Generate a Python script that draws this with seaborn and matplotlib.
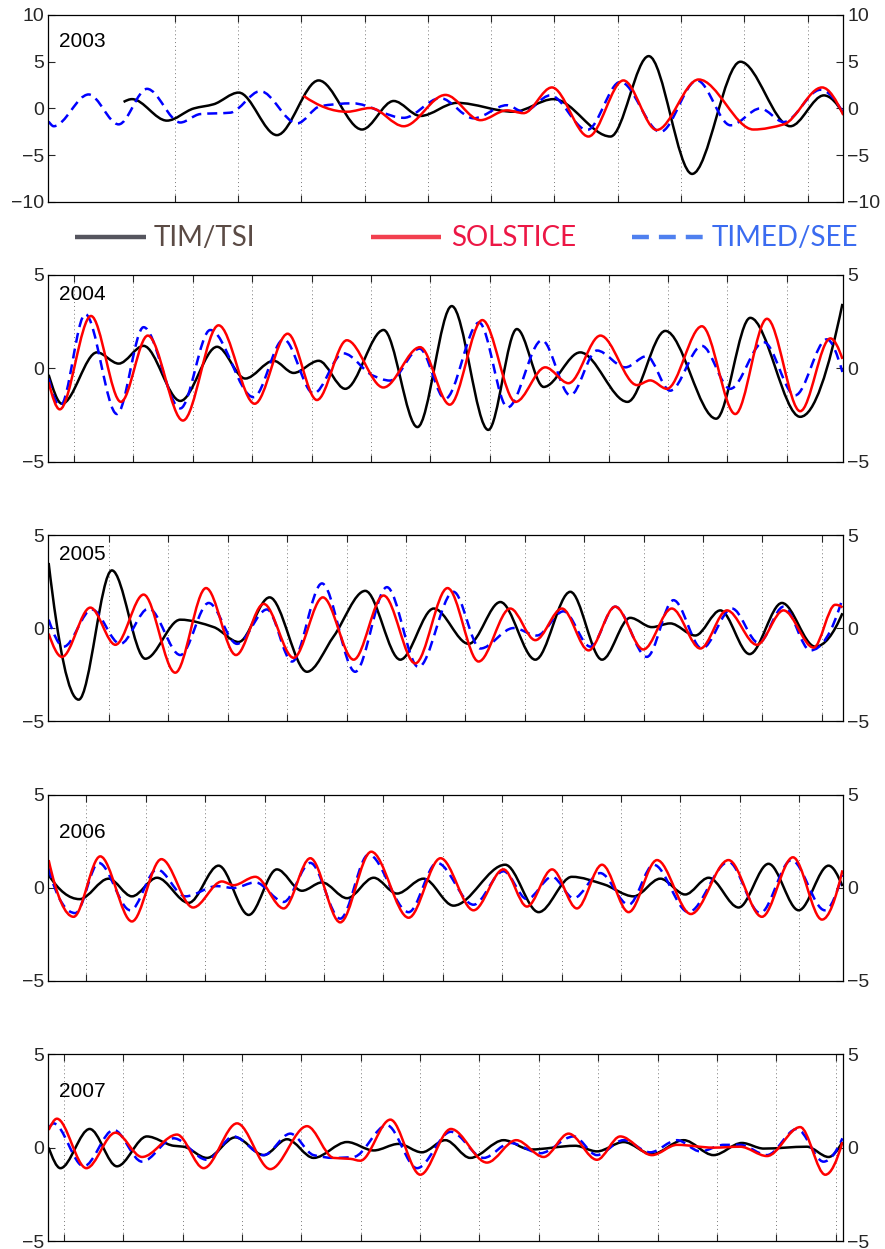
import numpy as np
import matplotlib
matplotlib.use("Agg")
import matplotlib.pyplot as plt
import seaborn as sns
from matplotlib.path import Path
from matplotlib.patches import PathPatch
from matplotlib.lines import Line2D

# ---------------- data (day of record, filtered anomaly) ----------------
years = [2003, 2004, 2005, 2006, 2007]
series_names = ["TIM/TSI", "SOLSTICE", "TIMED/SEE"]

tim_2003_day = [32.1, 35.7, 50.6, 62.0, 70.5, 81.2, 97.5, 115.3, 133.8, 147.3, 158.7, 174.3, 198.5, 215.5, 239.8, 256.1, 274.6, 295.2, 316.5, 330.8, 339.1]
tim_2003_val = [0.7, 1.0, -1.3, 0.0, 0.45, 1.7, -2.85, 3.0, -2.25, 0.8, -0.8, 0.6, -0.35, 1.0, -3.0, 5.6, -7.0, 5.0, -1.9, 1.4, -0.55]
sol_2003_day = [108.9, 127.4, 137.4, 151.6, 169.4, 184.3, 195.6, 202.7, 214.8, 230.4, 245.3, 259.5, 277.4, 300.8, 313.7, 330.0, 339.1]
sol_2003_val = [1.35, -0.35, 0.05, -1.9, 1.45, -1.25, -0.2, -0.5, 2.25, -3.0, 3.0, -2.3, 3.1, -2.25, -1.7, 2.25, -0.7]
see_2003_day = [0.1, 2.3, 17.2, 30.0, 42.1, 56.3, 64.8, 77.6, 90.4, 106.1, 116.0, 129.8, 151.6, 167.2, 181.4, 195.6, 202.7, 214.1, 229.8, 244.0, 261.1, 276.7, 291.0, 303.7, 313.7, 329.3, 339.1]
see_2003_val = [-1.4, -1.9, 1.5, -1.7, 2.1, -1.5, -0.6, -0.45, 1.85, -1.6, 0.25, 0.55, -1.0, 1.1, -1.05, 0.35, -0.35, 1.4, -2.3, 2.85, -2.5, 3.0, -1.8, 0.0, -1.45, 2.0, -0.5]

tim_2004_day = [0.15, 6.2, 22.1, 32.0, 43.3, 60.0, 76.7, 89.5, 102.4, 111.5, 122.9, 135.0, 152.4, 167.8, 183.4, 200.0, 213.0, 225.2, 241.8, 263.3, 280.5, 303.6, 319.1, 341.8, 361.0]
tim_2004_val = [-0.35, -1.9, 0.85, 0.25, 1.2, -1.75, 1.15, -0.55, 0.4, -0.25, 0.4, -1.1, 2.05, -3.15, 3.33, -3.3, 2.1, -1.0, 0.85, -1.8, 2.0, -2.7, 2.7, -2.6, 3.45]
sol_2004_day = [0.15, 5.2, 19.4, 33.0, 45.2, 61.2, 77.4, 93.8, 108.8, 122.1, 135.7, 152.3, 169.0, 182.5, 197.3, 212.4, 225.9, 236.5, 251.0, 267.6, 273.6, 281.2, 297.1, 312.3, 326.7, 341.8, 355.5, 361.0]
sol_2004_val = [-0.75, -2.2, 2.8, -1.8, 1.75, -2.8, 2.3, -1.9, 1.85, -1.7, 1.5, -1.03, 1.13, -1.95, 2.58, -1.8, 0.05, -0.8, 1.75, -0.9, -0.65, -1.1, 2.25, -2.45, 2.65, -2.3, 1.6, 0.5]
see_2004_day = [0.15, 5.5, 16.8, 31.2, 43.3, 60.0, 73.6, 93.3, 107.0, 120.6, 134.1, 147.7, 155.3, 168.8, 180.4, 195.8, 208.8, 224.4, 237.3, 249.4, 262.3, 272.0, 282.7, 297.1, 310.0, 325.2, 339.5, 353.9, 361.0]
see_2004_val = [-0.55, -2.0, 2.9, -2.45, 2.2, -2.15, 2.05, -1.55, 1.55, -1.35, 0.8, -0.4, -0.66, 1.05, -1.64, 2.45, -2.1, 1.5, -1.45, 0.95, 0.05, 0.65, -1.2, 1.2, -1.1, 1.4, -1.45, 1.55, -0.2]

tim_2005_day = [0.15, 13.8, 28.9, 44.1, 60.0, 75.2, 86.5, 100.6, 117.6, 129.7, 144.1, 160.0, 175.2, 191.1, 205.5, 221.4, 237.3, 251.7, 264.5, 274.4, 282.7, 294.1, 305.5, 318.8, 333.5, 348.6, 361.0]
tim_2005_val = [3.5, -3.85, 3.1, -1.65, 0.45, 0.05, -0.75, 1.65, -2.35, -0.45, 2.0, -1.7, 1.05, -0.85, 1.4, -1.7, 1.95, -1.7, 0.55, 0.05, 0.25, -0.4, 0.95, -1.4, 1.35, -1.0, 0.8]
sol_2005_day = [0.15, 6.2, 19.1, 30.5, 43.3, 57.7, 71.7, 85.3, 97.9, 111.5, 124.8, 138.8, 152.4, 166.8, 181.5, 195.6, 210.0, 221.4, 233.5, 245.6, 257.7, 270.5, 283.4, 296.4, 308.5, 322.1, 334.2, 347.9, 357.7, 361.0]
sol_2005_val = [-0.3, -1.55, 1.1, -0.9, 1.8, -2.4, 2.15, -1.45, 1.3, -1.6, 1.65, -1.7, 1.75, -1.9, 2.15, -1.8, 1.05, -0.65, 1.05, -1.2, 1.15, -1.15, 1.05, -1.1, 0.95, -0.9, 0.95, -1.05, 1.25, 1.1]
see_2005_day = [0.15, 7.0, 19.8, 32.7, 45.6, 60.0, 72.9, 85.8, 99.4, 110.8, 124.4, 139.5, 153.9, 168.3, 184.2, 196.4, 211.5, 222.1, 234.2, 246.4, 257.7, 272.1, 284.2, 297.1, 310.8, 322.9, 334.2, 346.4, 361.0]
see_2005_val = [0.45, -1.0, 1.0, -0.85, 1.05, -1.45, 1.35, -0.85, 1.0, -1.8, 2.4, -2.35, 2.2, -2.1, 1.95, -1.1, 0.0, -0.4, 0.9, -1.0, 1.15, -1.55, 1.5, -1.1, 1.05, -0.8, 1.15, -1.2, 1.6]

tim_2006_day = [0.15, 14.2, 27.4, 38.0, 49.4, 63.8, 77.4, 91.1, 103.9, 115.3, 124.4, 135.8, 147.9, 158.5, 170.6, 184.2, 207.7, 222.9, 238.0, 252.4, 266.1, 278.2, 289.5, 300.2, 313.8, 327.4, 341.1, 354.7, 361.0]
tim_2006_val = [0.7, -0.6, 0.5, -0.45, 0.55, -0.8, 1.2, -1.45, 1.0, -0.15, 0.3, -0.55, 0.55, -0.3, 0.5, -0.95, 1.25, -1.3, 0.6, 0.2, -0.45, 0.5, -0.35, 0.55, -1.05, 1.3, -1.2, 1.2, 0.1]
sol_2006_day = [0.15, 11.5, 23.6, 38.0, 51.4, 65.8, 78.9, 84.2, 94.1, 107.0, 119.1, 132.7, 146.8, 163.8, 178.3, 193.3, 206.9, 217.6, 229.0, 240.3, 251.7, 263.8, 276.7, 292.1, 309.2, 324.4, 338.5, 351.7, 361.0]
sol_2006_val = [1.5, -1.55, 1.7, -1.8, 1.55, -1.05, 0.35, 0.15, 0.6, -1.1, 1.6, -1.85, 1.95, -1.6, 1.6, -1.2, 1.0, -1.0, 1.0, -1.1, 1.25, -1.3, 1.5, -1.4, 1.5, -1.55, 1.65, -1.7, 0.95]
see_2006_day = [0.15, 12.3, 22.9, 37.3, 49.4, 62.3, 76.7, 84.2, 94.1, 107.0, 119.1, 132.7, 145.6, 163.8, 176.7, 193.3, 206.9, 217.6, 229.0, 238.8, 250.9, 263.8, 275.2, 291.0, 309.2, 323.6, 337.8, 353.0, 361.0]
see_2006_val = [1.05, -1.35, 1.35, -1.2, 1.0, -0.45, 0.1, 0.0, 0.3, -0.75, 1.35, -1.65, 1.8, -1.3, 1.35, -0.9, 0.9, -0.6, 0.6, -0.55, 0.8, -0.9, 1.25, -1.3, 1.4, -1.35, 1.5, -1.2, 0.7]

tim_2007_day = [0.15, 5.5, 18.8, 31.2, 44.8, 57.0, 61.5, 72.1, 85.0, 97.9, 108.5, 120.6, 135.8, 147.9, 159.2, 169.8, 180.5, 191.8, 207.0, 219.1, 239.5, 249.4, 261.5, 274.4, 288.8, 302.4, 315.3, 325.2, 344.8, 354.7, 361.0]
tim_2007_val = [0.0, -1.1, 1.0, -1.0, 0.6, 0.1, 0.05, -0.55, 0.55, -0.4, 0.45, -0.55, 0.3, -0.15, 0.2, -0.25, 0.4, -0.55, 0.4, -0.1, 0.1, -0.2, 0.3, -0.35, 0.4, -0.4, 0.25, -0.05, 0.05, -0.5, 0.3]
sol_2007_day = [0.15, 3.9, 17.3, 30.5, 42.6, 58.5, 70.6, 85.8, 100.9, 117.6, 129.7, 137.3, 141.8, 155.5, 169.1, 183.0, 199.4, 212.7, 225.2, 236.5, 249.4, 260.0, 274.4, 285.8, 302.4, 314.5, 326.7, 341.8, 353.2, 361.0]
sol_2007_val = [0.95, 1.55, -1.1, 0.8, -0.5, 0.7, -1.1, 1.3, -1.15, 1.15, -0.55, -0.6, -0.7, 1.5, -1.45, 1.0, -0.8, 0.4, -0.5, 0.75, -0.65, 0.6, -0.4, 0.15, 0.0, 0.05, -0.45, 1.1, -1.45, 0.3]
see_2007_day = [0.15, 2.4, 16.1, 29.7, 42.6, 57.0, 72.1, 84.2, 97.9, 110.0, 120.6, 129.7, 138.8, 153.9, 167.6, 183.0, 197.9, 210.0, 223.6, 238.8, 249.4, 261.5, 273.6, 285.8, 296.4, 307.0, 314.5, 326.7, 340.3, 352.4, 361.0]
see_2007_val = [1.05, 1.3, -1.0, 0.95, -0.75, 0.5, -0.65, 0.6, -0.4, 0.75, -0.4, -0.55, -0.5, 1.2, -1.1, 0.85, -0.55, 0.25, -0.3, 0.6, -0.4, 0.4, -0.25, 0.4, -0.2, 0.15, 0.15, -0.4, 1.0, -0.75, 0.5]

# axis extents (days) and first rotation-tick per year; ticks every 27 days
x_max = [339.1, 361.4, 361.4, 361.4, 361.4]
first_tick = [53.9, 11.7, 27.6, 17.3, 7.0]
rotation_days = 27
y_lim = [10, 5, 5, 5, 5]
y_ticks = [[-10, -5, 0, 5, 10], [-5, 0, 5], [-5, 0, 5], [-5, 0, 5], [-5, 0, 5]]

tim = [(tim_2003_day, tim_2003_val), (tim_2004_day, tim_2004_val), (tim_2005_day, tim_2005_val),
       (tim_2006_day, tim_2006_val), (tim_2007_day, tim_2007_val)]
sol = [(sol_2003_day, sol_2003_val), (sol_2004_day, sol_2004_val), (sol_2005_day, sol_2005_val),
       (sol_2006_day, sol_2006_val), (sol_2007_day, sol_2007_val)]
see = [(see_2003_day, see_2003_val), (see_2004_day, see_2004_val), (see_2005_day, see_2005_val),
       (see_2006_day, see_2006_val), (see_2007_day, see_2007_val)]

# ---------------- style ----------------
sns.set_style("ticks")
plt.rcParams['font.family'] = ['Liberation Sans', 'DejaVu Sans']
plt.rcParams['axes.unicode_minus'] = True


def smooth_path(xs, ys):
    """Monotone cubic (PCHIP) curve through the read nodes, as Bezier path."""
    x = np.asarray(xs, float)
    y = np.asarray(ys, float)
    n = len(x)
    h = np.diff(x)
    d = np.diff(y) / h
    m = np.zeros(n)
    for k in range(1, n - 1):
        if d[k - 1] * d[k] > 0:
            w1 = 2 * h[k] + h[k - 1]
            w2 = h[k] + 2 * h[k - 1]
            m[k] = (w1 + w2) / (w1 / d[k - 1] + w2 / d[k])

    def end_slope(h0, h1, d0, d1):
        s = ((2 * h0 + h1) * d0 - h0 * d1) / (h0 + h1)
        if np.sign(s) != np.sign(d0):
            s = 0.0
        elif np.sign(d0) != np.sign(d1) and abs(s) > 3 * abs(d0):
            s = 3 * d0
        return s

    m[0] = end_slope(h[0], h[1], d[0], d[1])
    m[-1] = end_slope(h[-1], h[-2], d[-1], d[-2])
    verts = [(x[0], y[0])]
    codes = [Path.MOVETO]
    for i in range(n - 1):
        verts += [(x[i] + h[i] / 3, y[i] + m[i] * h[i] / 3),
                  (x[i + 1] - h[i] / 3, y[i + 1] - m[i + 1] * h[i] / 3),
                  (x[i + 1], y[i + 1])]
        codes += [Path.CURVE4] * 3
    return Path(verts, codes)


fig = plt.figure(figsize=(8.85, 12.49), dpi=100)
ax_rects = [
    [0.0546, 0.8383, 0.8983, 0.1497],
    [0.0546, 0.6304, 0.8983, 0.1495],
    [0.0546, 0.4227, 0.8983, 0.1489],
    [0.0546, 0.2146, 0.8983, 0.1489],
    [0.0546, 0.0064, 0.8983, 0.1495],
]
year_pos = [(0.013, 0.856), (0.013, 0.893), (0.013, 0.898), (0.013, 0.796), (0.013, 0.798)]

LW = 1.8
for i, yr in enumerate(years):
    ax = fig.add_axes(ax_rects[i])
    ax.set_xlim(0, x_max[i])
    ax.set_ylim(-y_lim[i], y_lim[i])
    ax.set_xticks(np.arange(first_tick[i], x_max[i], rotation_days))
    ax.set_xticklabels([])
    ax.set_yticks(y_ticks[i])
    ax.grid(axis='x', linestyle=(0, (1, 3)), color='#777777', linewidth=0.7)
    ax.tick_params(axis='x', direction='in', top=True, bottom=True, length=5, width=0.8)
    ax.tick_params(axis='y', direction='in', left=True, right=True, labelleft=True,
                   labelright=True, length=5, width=0.8, labelsize=14, pad=3)
    for sp in ax.spines.values():
        sp.set_linewidth(0.9)
        sp.set_color('black')

    for (xs, ys), col, ls in [(tim[i], 'black', '-'), (see[i], '#0000ff', (0, (4, 2.4))),
                              (sol[i], '#ff0000', '-')]:
        patch = PathPatch(smooth_path(xs, ys), fill=False, edgecolor=col, linewidth=LW,
                          linestyle=ls, transform=ax.transData, joinstyle='round',
                          capstyle='butt', clip_on=True)
        ax.add_patch(patch)

    ax.text(year_pos[i][0], year_pos[i][1], str(yr), transform=ax.transAxes,
            fontsize=15, ha='left', va='center', color='black')

# ---------------- legend between first two panels ----------------
leg_y = 0.8102
leg_items = [
    ("TIM/TSI", '#55555e', '#5b4b45', '-', (0.0847, 0.1650), 0.1740),
    ("SOLSTICE", '#f2404f', '#ec1745', '-', (0.4192, 0.4983), 0.5096),
    ("TIMED/SEE", '#4f80ef', '#3b6cf0', (0, (3.8, 2.25)), (0.7141, 0.7944), 0.8045),
]
for label, lcol, tcol, ls, (x0, x1), tx in leg_items:
    fig.add_artist(Line2D([x0, x1], [leg_y, leg_y], transform=fig.transFigure,
                          color=lcol, linewidth=3.2, linestyle=ls, solid_capstyle='butt',
                          dash_capstyle='butt'))
    fig.text(tx, leg_y - 0.001, label, color=tcol, fontsize=20, ha='left', va='center',
             family=['Lato', 'DejaVu Sans'])

fig.savefig("out.png", dpi=100)
